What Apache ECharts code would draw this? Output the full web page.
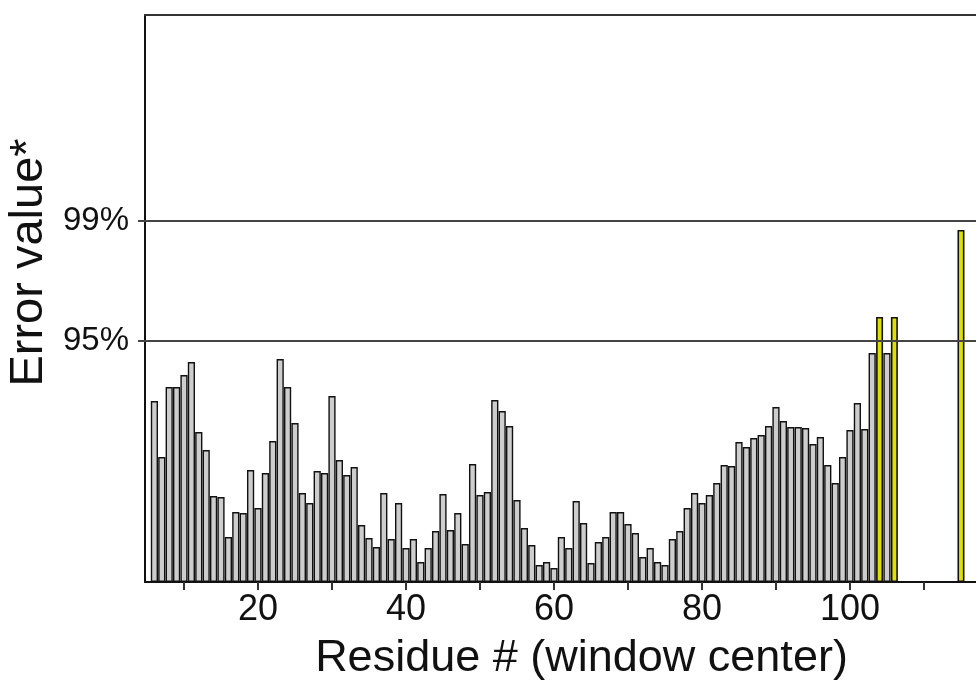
<!DOCTYPE html>
<html><head><meta charset="utf-8">
<script src="https://cdn.jsdelivr.net/npm/echarts@6/dist/echarts.min.js"></script>
<style>html,body{margin:0;padding:0;background:#fff}#c{width:976px;height:682px}</style>
</head><body><div id="c"></div>
<script>
const residues = [6,7,8,9,10,11,12,13,14,15,16,17,18,19,20,21,22,23,24,25,26,27,28,29,30,31,32,33,34,35,36,37,38,39,40,41,42,43,44,45,46,47,48,49,50,51,52,53,54,55,56,57,58,59,60,61,62,63,64,65,66,67,68,69,70,71,72,73,74,75,76,77,78,79,80,81,82,83,84,85,86,87,88,89,90,91,92,93,94,95,96,97,98,99,100,101,102,103,104,105,106,115];
const errorValues = [1.81,1.25,1.95,1.95,2.07,2.20,1.50,1.32,0.86,0.85,0.45,0.70,0.69,1.12,0.74,1.09,1.41,2.23,1.95,1.59,0.89,0.79,1.11,1.09,1.86,1.22,1.07,1.15,0.57,0.44,0.35,0.89,0.43,0.79,0.34,0.43,0.20,0.34,0.51,0.88,0.52,0.69,0.38,1.18,0.87,0.90,1.82,1.71,1.56,0.82,0.54,0.37,0.17,0.20,0.14,0.45,0.34,0.81,0.59,0.19,0.40,0.45,0.70,0.70,0.58,0.49,0.25,0.34,0.20,0.17,0.43,0.51,0.74,0.89,0.79,0.87,0.99,1.17,1.16,1.40,1.35,1.44,1.47,1.56,1.75,1.61,1.55,1.55,1.54,1.38,1.45,1.17,0.99,1.25,1.52,1.79,1.53,2.29,2.65,2.29,2.65,3.52];
const thresholdValues = [2.41, 3.61];
const thresholdLabels = ['95%', '99%'];
const xTickValues = [10,20,30,40,50,60,70,80,90,100,110];
const xLabelValues = [20,40,60,80,100];

const FONT = 'Liberation Sans, Arial, sans-serif';
const X_MIN = 4.73, X_MAX = 117.03;
const chart = echarts.init(document.getElementById('c'), null, {renderer: 'canvas'});
const grayData = [], yellowData = [];
residues.forEach((r, i) => {
  const v = errorValues[i];
  (v > thresholdValues[0] ? yellowData : grayData).push([r, v]);
});
chart.setOption({
  animation: false,
  backgroundColor: '#fff',
  grid: {left: 145, right: 0, top: 15, bottom: 100, show: false, outerBoundsMode: 'none', containLabel: false},
  xAxis: [{
    type: 'value', min: X_MIN, max: X_MAX,
    name: 'Residue # (window center)', nameLocation: 'middle', nameGap: 54,
    nameTextStyle: {fontFamily: FONT, fontSize: 45, color: '#111', padding: [0, 0, 0, 42]},
    axisLine: {show: true, onZero: false, lineStyle: {color: '#111', width: 2}},
    axisTick: {show: true, customValues: xTickValues, length: 8, lineStyle: {color: '#333', width: 2}},
    axisLabel: {customValues: xLabelValues, fontFamily: FONT, fontSize: 36, color: '#111', margin: 10},
    splitLine: {show: false}
  }, {
    type: 'value', position: 'top', min: X_MIN, max: X_MAX,
    axisLine: {show: true, onZero: false, lineStyle: {color: '#333', width: 2}},
    axisTick: {show: false}, axisLabel: {show: false}, splitLine: {show: false}
  }],
  yAxis: {
    type: 'value', min: 0, max: 5.67,
    name: 'Error value*', nameLocation: 'middle', nameGap: 82, nameRotate: 90,
    nameTextStyle: {fontFamily: FONT, fontSize: 47, color: '#111', padding: [0, 0, 0, 72]},
    axisLine: {show: true, lineStyle: {color: '#111', width: 2}},
    axisTick: {show: true, customValues: thresholdValues, length: 7, lineStyle: {color: '#444', width: 2}},
    axisLabel: {customValues: thresholdValues, fontFamily: FONT, fontSize: 33, color: '#111', margin: 16,
      formatter: v => { const i = thresholdValues.findIndex(t => Math.abs(t - v) < 1e-6); return i >= 0 ? thresholdLabels[i] : ''; }},
    splitLine: {show: false}
  },
  series: [{
    type: 'line', xAxisIndex: 0, data: [], z: 1,
    markLine: {silent: true, symbol: 'none', label: {show: false},
      lineStyle: {color: '#444', width: 2, type: 'solid'},
      data: thresholdValues.map(v => ({yAxis: v}))}
  }, {
    type: 'bar', xAxisIndex: 0, barWidth: 7.2, barMaxWidth: 20, data: grayData, z: 3,
    itemStyle: {color: '#cdcdcd', borderColor: '#111', borderWidth: 1.4}
  }, {
    type: 'bar', xAxisIndex: 1, barWidth: 7, barMaxWidth: 20, data: yellowData, z: 4,
    itemStyle: {color: '#e0e000', borderColor: '#111', borderWidth: 1.6}
  }]
});
</script></body></html>
